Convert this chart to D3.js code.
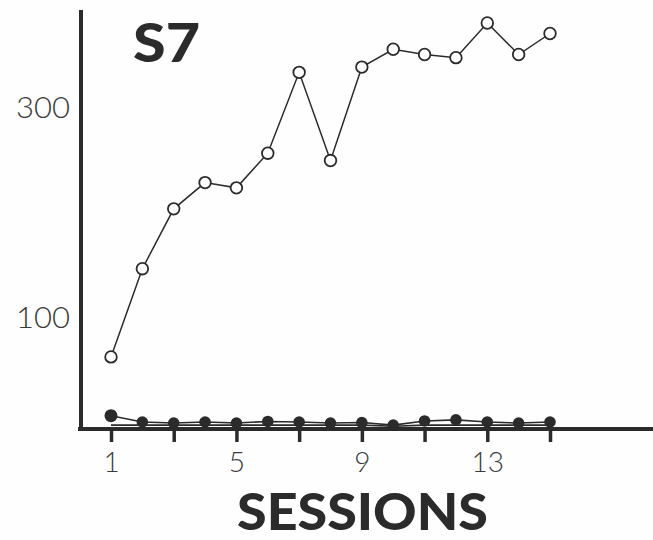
<!DOCTYPE html>
<html><head><meta charset="utf-8">
<script src="https://cdn.jsdelivr.net/npm/d3@7"></script>
<style>
html,body{margin:0;padding:0;background:#fefefe;}
svg{display:block;}
</style></head>
<body>
<script>
const sessions = [1,2,3,4,5,6,7,8,9,10,11,12,13,14,15];
const openValues = [62,146,203,228,223,256,333,249,338,355,350,347,380,350,370];
const filledValues = [6,0,-1,0,-1,0.5,0,-1,-0.5,-3,1,2,0,-1,0];
const lowerValues = [-3,-3,-3,-3,-3,-3,-3,-3,-3,-4,-3,-3,-3,-3,-3];
const xTickValues = [1,3,5,7,9,11,13,15];
const xTickLabels = {1:"1",5:"5",9:"9",13:"13"};
const yTickValues = [100,300];
const panelTitle = "S7";
const xTitle = "SESSIONS";

const W = 653, H = 540;
const ink = "#2b2b2b";
const svg = d3.select("body").append("svg").attr("width", W).attr("height", H);

const x = d3.scaleLinear().domain([1,15]).range([111,550]);
const y = d3.scaleLinear().domain([100,300]).range([317,107]);

// Y axis
const yAxis = d3.axisLeft(y).tickValues(yTickValues).tickSize(0).tickPadding(11);
const gy = svg.append("g").attr("transform","translate(81,0)").call(yAxis);
gy.select(".domain").remove();
gy.selectAll("text").attr("font-family","Lato, 'Open Sans', sans-serif").attr("font-weight",300)
  .attr("font-size",29).attr("fill","#3a3a3a").attr("dy","0.36em")
  .attr("textLength",54).attr("lengthAdjust","spacingAndGlyphs");
svg.append("line").attr("x1",81).attr("x2",81).attr("y1",10).attr("y2",431)
  .attr("stroke",ink).attr("stroke-width",4);

// X axis
const xAxis = d3.axisBottom(x).tickValues(xTickValues).tickSize(13).tickSizeOuter(0)
  .tickFormat(d => xTickLabels[d] || "").tickPadding(10);
const gx = svg.append("g").attr("transform","translate(0,429)").call(xAxis);
gx.select(".domain").remove();
gx.selectAll(".tick line").attr("stroke",ink).attr("stroke-width",3.5);
gx.selectAll("text").attr("font-family","Lato, 'Open Sans', sans-serif").attr("font-weight",300)
  .attr("font-size",28).attr("fill","#3a3a3a");
svg.append("line").attr("x1",78).attr("x2",W).attr("y1",429).attr("y2",429)
  .attr("stroke",ink).attr("stroke-width",4);

const line = d3.line().x((d,i)=>x(sessions[i])).y(d=>y(d));

// lower near-zero line
svg.append("path").datum(lowerValues).attr("d",line)
  .attr("fill","none").attr("stroke",ink).attr("stroke-width",1.6);

// filled series
svg.append("path").datum(filledValues).attr("d",line)
  .attr("fill","none").attr("stroke",ink).attr("stroke-width",1.6);
svg.selectAll("circle.filled").data(filledValues).join("circle").attr("class","filled")
  .attr("cx",(d,i)=>x(sessions[i])).attr("cy",d=>y(d)).attr("r",(d,i)=>i===0?6.5:5.8)
  .attr("fill",ink);

// open series
svg.append("path").datum(openValues).attr("d",line)
  .attr("fill","none").attr("stroke",ink).attr("stroke-width",1.5);
svg.selectAll("circle.open").data(openValues).join("circle").attr("class","open")
  .attr("cx",(d,i)=>x(sessions[i])).attr("cy",d=>y(d)).attr("r",5.8)
  .attr("fill","#fefefe").attr("stroke",ink).attr("stroke-width",1.8);

// Titles
svg.append("text").attr("x",133).attr("y",62).text(panelTitle)
  .attr("font-family","Lato, 'DejaVu Sans', sans-serif").attr("font-weight",900)
  .attr("font-size",54).attr("fill",ink).attr("textLength",67).attr("lengthAdjust","spacingAndGlyphs");
svg.append("text").attr("x",237).attr("y",530).text(xTitle)
  .attr("font-family","Lato, 'DejaVu Sans', sans-serif").attr("font-weight",900)
  .attr("font-size",52).attr("fill",ink).attr("textLength",251).attr("lengthAdjust","spacingAndGlyphs");
</script>
</body></html>
